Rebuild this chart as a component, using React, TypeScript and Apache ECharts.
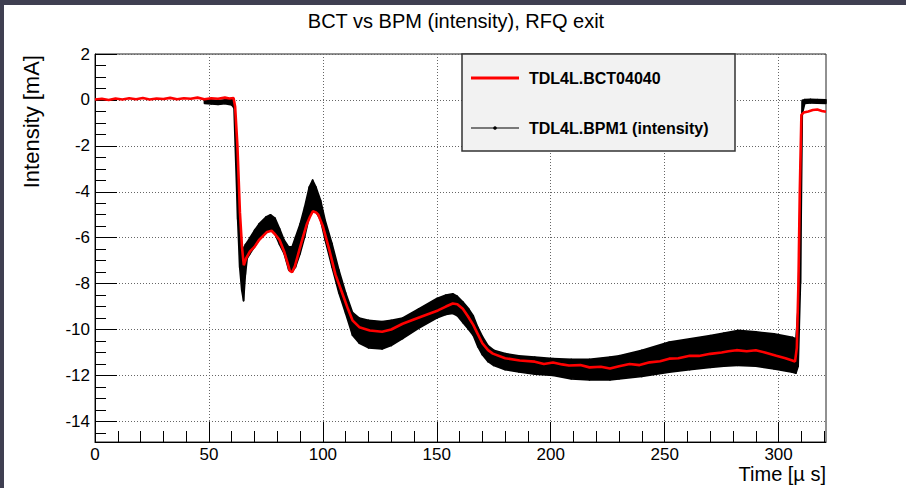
import React, { useEffect, useRef } from "react";
import * as echarts from "echarts";

const titleText = "BCT vs BPM (intensity), RFQ exit";
const xTitle = "Time [µ s]";
const yTitle = "Intensity [mA]";
const seriesNames = ["TDL4L.BCT04040", "TDL4L.BPM1 (intensity)"];

const xTickLabels = [0, 50, 100, 150, 200, 250, 300];
const xMinorTicks = [10, 20, 30, 40, 60, 70, 80, 90, 110, 120, 130, 140, 160, 170, 180, 190, 210, 220, 230, 240, 260, 270, 280, 290, 310, 320];
const yTickLabels = [-14, -12, -10, -8, -6, -4, -2, 0, 2];
const yMinorTicks = [-14.5, -13.5, -13, -12.5, -11.5, -11, -10.5, -9.5, -9, -8.5, -7.5, -7, -6.5, -5.5, -5, -4.5, -3.5, -3, -2.5, -1.5, -1, -0.5, 0.5, 1, 1.5];

// BCT (red)
const bctTime = [0, 3, 6, 9, 12, 15, 18, 21, 24, 27, 30, 33, 36, 39, 42, 45, 48, 51, 54, 57, 59, 60.8, 61.5, 62.5, 63.6, 64.5, 65.3, 66.3, 68, 70, 72, 74, 75.5, 77.5, 79, 81, 83, 84.5, 85.5, 86.5, 87.7, 89.5, 91.2, 93, 94.3, 95.6, 97, 98, 100, 103, 105.5, 108.8, 111, 113, 116, 120.6, 126, 130, 135, 142.5, 150.5, 154, 157, 159, 161.4, 163.5, 166, 168, 170, 172.5, 174.6, 180, 186.4, 193, 197, 201, 205, 208, 213, 217, 222, 226, 230, 234.6, 239, 243.4, 248, 252, 256, 261, 265, 270, 275, 278, 281.5, 286, 290, 294, 299, 303, 306, 307.2, 308, 308.7, 309.3, 310, 311, 313, 315, 317, 319, 320.8];
const bctValue = [0.02, 0.05, 0.0, 0.06, 0.02, 0.07, 0.03, 0.08, 0.02, 0.06, 0.04, 0.09, 0.03, 0.07, 0.05, 0.1, 0.03, 0.07, 0.05, 0.1, 0.06, 0.08, -0.3, -2.0, -4.9, -6.4, -7.2, -6.9, -6.6, -6.4, -6.1, -5.9, -5.75, -5.7, -5.85, -6.1, -6.6, -7.1, -7.45, -7.5, -7.25, -6.6, -6.0, -5.4, -5.1, -4.85, -4.9, -5.0, -5.5, -6.6, -7.6, -8.5, -9.1, -9.6, -9.9, -10.04, -10.1, -10.0, -9.75, -9.47, -9.17, -9.0, -8.87, -8.9, -9.1, -9.4, -9.8, -10.2, -10.6, -10.9, -11.05, -11.25, -11.35, -11.4, -11.5, -11.44, -11.52, -11.57, -11.55, -11.65, -11.62, -11.7, -11.6, -11.5, -11.55, -11.43, -11.38, -11.27, -11.25, -11.14, -11.15, -11.06, -11.0, -10.95, -10.9, -10.95, -10.9, -11.0, -11.14, -11.25, -11.35, -11.4, -10.8, -8.0, -4.0, -0.65, -0.55, -0.5, -0.44, -0.42, -0.48, -0.52];

// BPM (black band envelope)
const bpmTime = [48, 51, 54, 57, 60, 61, 61.8, 62.6, 63.5, 64.4, 65.2, 66, 66.8, 68, 70, 72, 75, 77, 79, 81, 83, 85, 86.5, 88, 90, 92, 94, 95.5, 97, 99, 101, 104, 107, 110, 113, 116, 120, 126, 130, 135, 142, 150, 154, 157, 159, 161.5, 164, 166, 168, 170, 172.5, 175, 180, 186, 193, 201, 209, 217, 226, 230, 240, 252, 261, 270, 276, 282, 290, 298, 306, 307.6, 308.6, 309.6, 310.4, 311.5, 314, 317, 320.8];
const bpmUpper = [-0.02, 0.0, -0.03, 0.0, 0.02, -0.05, -1.2, -3.5, -5.6, -6.3, -6.5, -6.3, -6.2, -6.0, -5.68, -5.4, -5.1, -5.0, -5.15, -5.6, -6.1, -6.4, -6.4, -5.97, -5.4, -4.66, -3.8, -3.49, -3.8, -4.37, -5.24, -6.25, -7.4, -8.4, -9.25, -9.5, -9.6, -9.65, -9.6, -9.5, -9.1, -8.65, -8.5, -8.44, -8.55, -8.8, -9.1, -9.4, -9.9, -10.3, -10.7, -10.9, -11.05, -11.15, -11.2, -11.27, -11.3, -11.3, -11.2, -11.14, -10.9, -10.55, -10.4, -10.26, -10.15, -10.04, -10.1, -10.19, -10.34, -10.4, -9.0, -3.0, -0.02, 0.02, 0.03, 0.02, 0.0];
const bpmLower = [-0.15, -0.18, -0.2, -0.17, -0.22, -0.35, -2.8, -5.2, -7.3, -8.3, -8.75, -7.6, -6.9, -6.7, -6.4, -6.1, -5.8, -5.65, -5.85, -6.3, -6.7, -7.4, -7.5, -7.28, -6.7, -5.97, -5.1, -4.88, -4.88, -5.24, -6.1, -7.28, -8.4, -9.3, -10.25, -10.6, -10.8, -10.85, -10.7, -10.4, -9.95, -9.5, -9.35, -9.3, -9.4, -9.7, -10.0, -10.26, -10.75, -11.1, -11.4, -11.57, -11.75, -11.85, -11.95, -12.0, -12.15, -12.2, -12.2, -12.15, -12.05, -11.86, -11.75, -11.65, -11.6, -11.57, -11.6, -11.72, -11.86, -11.9, -11.6, -8.0, -0.6, -0.15, -0.13, -0.14, -0.15];

const X_MIN = 0;
const X_MAX = 320.8;
const Y_MIN = -14.9;
const Y_MAX = 2;
const FONT = "'Liberation Sans', Arial, Helvetica, sans-serif";

function buildOption(): any {
  const bandData = bpmTime.map((t, i) => [t, bpmUpper[i], bpmLower[i]]);
  const bctData = bctTime.map((t, i) => [t, bctValue[i]]);

  const axisLabelStyle = { fontSize: 17, color: "#000", fontFamily: FONT };

  const renderBand = (params: any, api: any) => {
    const i = params.dataIndex;
    if (i >= bpmTime.length - 1) return null;
    const a = api.coord([bpmTime[i], bpmUpper[i]]);
    const b = api.coord([bpmTime[i + 1], bpmUpper[i + 1]]);
    const c = api.coord([bpmTime[i + 1], bpmLower[i + 1]]);
    const d = api.coord([bpmTime[i], bpmLower[i]]);
    return {
      type: "polygon",
      shape: { points: [a, b, c, d] },
      style: { fill: "#000", stroke: "#000", lineWidth: 1.6, lineJoin: "round" },
    };
  };

  return {
    animation: false,
    backgroundColor: "#ffffff",
    grid: {
      left: 95,
      right: 80,
      top: 54,
      bottom: 46,
      show: true,
      borderColor: "#222",
      borderWidth: 1,
      backgroundColor: "transparent",
    },
    xAxis: [
      {
        type: "value",
        min: X_MIN,
        max: X_MAX,
        position: "bottom",
        axisLine: { show: true, onZero: false, lineStyle: { color: "#000", width: 1 } },
        axisTick: { show: true, inside: true, length: 20, customValues: xTickLabels, lineStyle: { color: "#000" } },
        axisLabel: { customValues: xTickLabels, margin: 4, ...axisLabelStyle },
        splitLine: { show: true, lineStyle: { color: "#666", width: 1, type: [1, 2] } },
      },
      {
        type: "value",
        min: X_MIN,
        max: X_MAX,
        position: "bottom",
        axisLine: { show: false, onZero: false },
        axisTick: { show: true, inside: true, length: 11, customValues: xMinorTicks, lineStyle: { color: "#000" } },
        axisLabel: { show: false },
        splitLine: { show: false },
      },
    ],
    yAxis: [
      {
        type: "value",
        min: Y_MIN,
        max: Y_MAX,
        position: "left",
        axisLine: { show: true, onZero: false, lineStyle: { color: "#000", width: 1 } },
        axisTick: { show: true, inside: true, length: 22, customValues: yTickLabels, lineStyle: { color: "#000" } },
        axisLabel: { customValues: yTickLabels, margin: 5, ...axisLabelStyle },
        splitLine: { show: true, lineStyle: { color: "#666", width: 1, type: [1, 2] } },
      },
      {
        type: "value",
        min: Y_MIN,
        max: Y_MAX,
        position: "left",
        axisLine: { show: false, onZero: false },
        axisTick: { show: true, inside: true, length: 11, customValues: yMinorTicks, lineStyle: { color: "#000" } },
        axisLabel: { show: false },
        splitLine: { show: false },
      },
    ],
    series: [
      {
        name: seriesNames[1],
        type: "custom",
        data: bandData,
        encode: { x: 0, y: [1, 2] },
        renderItem: renderBand,
        silent: true,
        z: 2,
      },
      {
        name: seriesNames[0],
        type: "line",
        data: bctData,
        symbol: "none",
        lineStyle: { color: "#ff0000", width: 2.6 },
        silent: true,
        z: 3,
      },
    ],
    graphic: [
      { type: "rect", shape: { x: 0, y: 0, width: 906, height: 5 }, style: { fill: "#3f3f51" }, z: 50 },
      { type: "rect", shape: { x: 0, y: 0, width: 4, height: 488 }, style: { fill: "#3f3f51" }, z: 50 },
      {
        type: "text",
        x: 456,
        y: 21,
        z: 50,
        style: { text: titleText, fontSize: 20, fontFamily: FONT, fill: "#000", align: "center", verticalAlign: "middle", textAlign: "center", textVerticalAlign: "middle" },
      },
      {
        type: "text",
        x: 31,
        y: 55,
        rotation: Math.PI / 2,
        z: 50,
        style: { text: yTitle, fontSize: 22, fontFamily: FONT, fill: "#000", align: "right", verticalAlign: "middle", textAlign: "right", textVerticalAlign: "middle" },
      },
      {
        type: "text",
        x: 826,
        y: 474,
        z: 50,
        style: { text: xTitle, fontSize: 20, fontFamily: FONT, fill: "#000", align: "right", verticalAlign: "middle", textAlign: "right", textVerticalAlign: "middle" },
      },
      {
        type: "rect",
        z: 60,
        shape: { x: 462, y: 54, width: 273, height: 97 },
        style: { fill: "#f2f2f2", stroke: "#333", lineWidth: 1.5 },
      },
      {
        type: "line",
        z: 61,
        shape: { x1: 471, y1: 78, x2: 519, y2: 78 },
        style: { stroke: "#ff0000", lineWidth: 3 },
      },
      {
        type: "line",
        z: 61,
        shape: { x1: 471, y1: 128, x2: 519, y2: 128 },
        style: { stroke: "#000", lineWidth: 1 },
      },
      {
        type: "circle",
        z: 62,
        shape: { cx: 495, cy: 128, r: 1.8 },
        style: { fill: "#000" },
      },
      {
        type: "text",
        x: 529,
        y: 78,
        z: 62,
        style: { text: seriesNames[0], fontSize: 16, fontWeight: "bold", fontFamily: FONT, fill: "#000", align: "left", verticalAlign: "middle", textAlign: "left", textVerticalAlign: "middle" },
      },
      {
        type: "text",
        x: 529,
        y: 128,
        z: 62,
        style: { text: seriesNames[1], fontSize: 16, fontWeight: "bold", fontFamily: FONT, fill: "#000", align: "left", verticalAlign: "middle", textAlign: "left", textVerticalAlign: "middle" },
      },
    ],
  };
}

export default function App() {
  const ref = useRef<HTMLDivElement>(null);
  useEffect(() => {
    document.body.style.margin = "0";
    if (!ref.current) return;
    const chart = echarts.init(ref.current, null, { renderer: "svg" });
    chart.setOption(buildOption());
    return () => {
      chart.dispose();
    };
  }, []);
  return <div ref={ref} style={{ width: 906, height: 488, background: "#fff" }} />;
}
